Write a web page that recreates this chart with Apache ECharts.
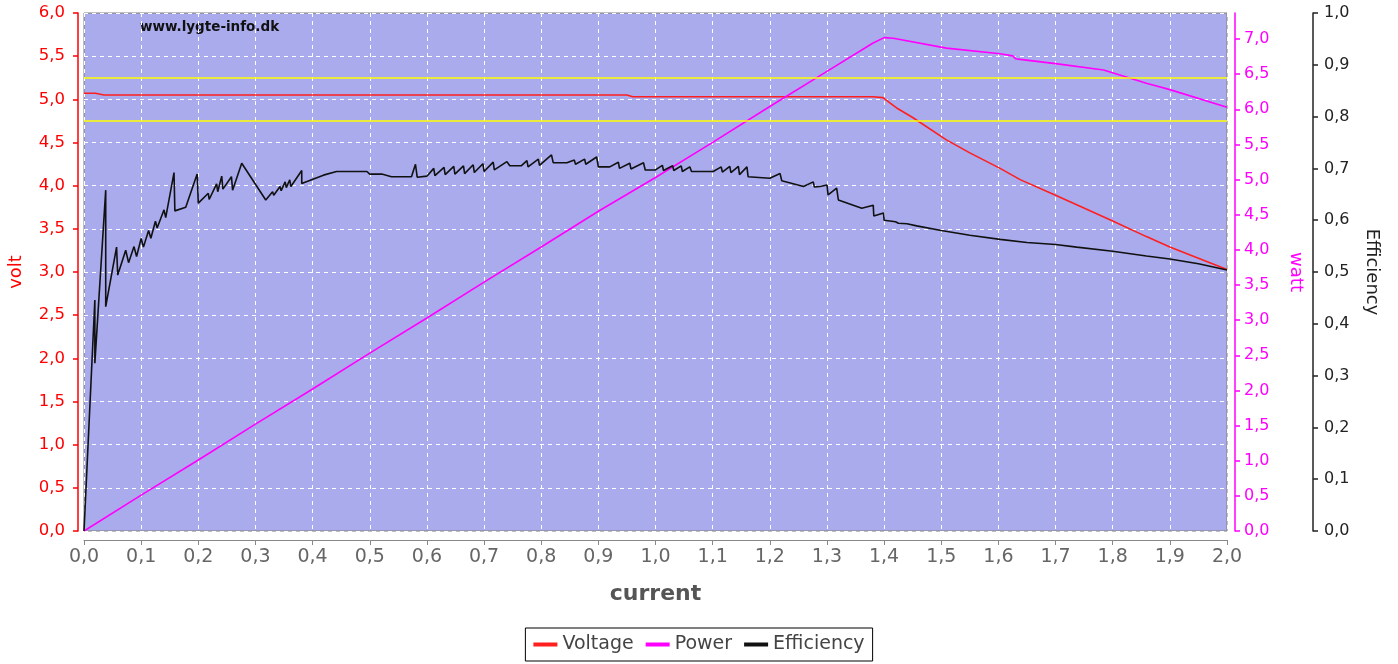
<!DOCTYPE html>
<html>
<head>
<meta charset="utf-8">
<script src="https://cdn.jsdelivr.net/npm/echarts@6/dist/echarts.min.js"></script>
<style>html,body{margin:0;padding:0;background:#fff}#c{width:1398px;height:664px}</style>
</head>
<body>
<div id="c"></div>
<script>
// ---- Data ----
const voltCurrent = [0,0.02,0.035,0.95,0.96,1.38,1.398,1.41,1.422,1.45,1.509,1.55,1.603,1.638,1.70,1.737,1.80,1.859,1.90,1.95,2.0];
const voltValues  = [5.07,5.07,5.05,5.05,5.03,5.03,5.02,4.96,4.90,4.79,4.53,4.38,4.20,4.07,3.89,3.78,3.59,3.41,3.29,3.16,3.03];

const powerCurrent = [0,0.1,0.2,0.3,0.4,0.5,0.6,0.7,0.8,0.9,1.0,1.1,1.2,1.3,1.38,1.40,1.416,1.509,1.603,1.625,1.63,1.638,1.70,1.784,1.859,1.90,2.0];
const powerValues  = [0,0.51,1.01,1.52,2.02,2.53,3.03,3.54,4.04,4.55,5.03,5.53,6.04,6.54,6.94,7.02,7.01,6.87,6.79,6.76,6.72,6.71,6.65,6.56,6.37,6.28,6.03];

const effCurrent = [0,0.019,0.019,0.038,0.038,0.057,0.059,0.073,0.078,0.0875,0.092,0.100,0.104,0.113,0.117,0.125,0.128,0.140,0.143,0.1575,0.159,0.178,0.198,0.200,0.2175,0.219,0.232,0.234,0.241,0.243,0.258,0.260,0.276,0.318,0.330,0.332,0.343,0.345,0.352,0.354,0.360,0.362,0.381,0.381,0.419,0.442,0.495,0.500,0.521,0.538,0.559,0.573,0.580,0.583,0.600,0.612,0.614,0.630,0.632,0.647,0.649,0.664,0.666,0.681,0.683,0.698,0.700,0.716,0.718,0.740,0.745,0.765,0.775,0.777,0.795,0.797,0.818,0.821,0.845,0.858,0.860,0.876,0.878,0.897,0.900,0.920,0.935,0.937,0.955,0.957,0.979,0.982,1.000,1.012,1.014,1.030,1.032,1.045,1.047,1.060,1.063,1.101,1.115,1.117,1.130,1.132,1.145,1.147,1.160,1.162,1.200,1.218,1.221,1.259,1.276,1.278,1.288,1.300,1.302,1.317,1.320,1.361,1.381,1.382,1.399,1.400,1.420,1.425,1.440,1.457,1.50,1.55,1.603,1.65,1.70,1.737,1.80,1.859,1.90,1.95,2.0];
const effValues  = [0,0.446,0.324,0.658,0.433,0.548,0.494,0.542,0.518,0.549,0.530,0.565,0.548,0.580,0.565,0.598,0.585,0.620,0.605,0.692,0.618,0.625,0.689,0.633,0.652,0.640,0.670,0.655,0.685,0.660,0.684,0.658,0.710,0.639,0.655,0.648,0.665,0.657,0.674,0.663,0.678,0.665,0.696,0.671,0.687,0.694,0.694,0.689,0.689,0.684,0.684,0.684,0.708,0.683,0.685,0.700,0.686,0.702,0.688,0.704,0.689,0.705,0.690,0.707,0.692,0.709,0.694,0.712,0.697,0.713,0.705,0.705,0.715,0.703,0.718,0.706,0.726,0.711,0.711,0.716,0.708,0.718,0.708,0.722,0.703,0.703,0.712,0.700,0.710,0.699,0.711,0.697,0.697,0.706,0.696,0.705,0.696,0.705,0.694,0.703,0.694,0.694,0.703,0.693,0.704,0.692,0.704,0.688,0.703,0.684,0.681,0.690,0.676,0.665,0.674,0.664,0.665,0.668,0.649,0.662,0.639,0.623,0.629,0.608,0.614,0.600,0.597,0.594,0.593,0.589,0.580,0.571,0.563,0.557,0.553,0.548,0.540,0.531,0.525,0.516,0.504];

const limitLines = [5.25, 4.75];
const seriesNames = ['Voltage','Power','Efficiency'];

const pair = (xs, ys) => xs.map((x, i) => [x, ys[i]]);
const comma = v => {
  const r = Math.round(v * 10) / 10;
  if (Math.abs(v - r) > 1e-6) return '';
  return r.toFixed(1).replace('.', ',');
};
const FONT = 'DejaVu Sans';

const chart = echarts.init(document.getElementById('c'), null, {renderer: 'canvas'});
chart.setOption({
  animation: false,
  backgroundColor: '#ffffff',
  textStyle: {fontFamily: FONT},
  grid: {left: 84, right: 171, top: 13, bottom: 133, show: true, containLabel: false,
         outerBoundsMode: 'none',
         backgroundColor: '#A9ABEC', borderColor: '#7f7f7f', borderWidth: 1},
  graphic: [{type: 'text', left: 140, top: 20,
             style: {text: 'www.lygte-info.dk', font: 'bold 13.5px ' + FONT, fill: '#111'}}],
  legend: {
    bottom: 3, left: 'center', data: seriesNames,
    icon: 'rect', itemWidth: 24, itemHeight: 4, itemGap: 12,
    borderColor: '#000', borderWidth: 1, borderRadius: 0, padding: [7, 8, 7, 8],
    textStyle: {fontSize: 19, color: '#444', fontFamily: FONT}
  },
  xAxis: {
    type: 'value', min: 0, max: 2, interval: 0.1, offset: 9,
    name: 'current', nameLocation: 'middle', nameGap: 43,
    nameTextStyle: {fontSize: 22, fontWeight: 'bold', color: '#555', fontFamily: FONT},
    axisLine: {show: true, onZero: false, lineStyle: {color: '#888', width: 1}},
    axisTick: {show: true, length: 5, lineStyle: {color: '#888'}},
    axisLabel: {fontSize: 19, color: '#666', margin: 8, formatter: comma},
    splitLine: {show: true, lineStyle: {color: '#ffffff', type: [4, 4], width: 1}}
  },
  yAxis: [
    {
      type: 'value', min: 0, max: 6, interval: 0.5, position: 'left', offset: 6,
      name: 'volt', nameLocation: 'middle', nameGap: 53, nameRotate: 90,
      nameTextStyle: {fontSize: 18, color: '#ff0000', fontFamily: FONT},
      axisLine: {show: true, onZero: false, lineStyle: {color: '#ff0000', width: 1.5}},
      axisTick: {show: true, length: 5, lineStyle: {color: '#ff0000', width: 1.5}},
      axisLabel: {fontSize: 16.5, color: '#ff0000', margin: 13, formatter: comma},
      splitLine: {show: true, lineStyle: {color: '#ffffff', type: [4, 4], width: 1}}
    },
    {
      type: 'value', min: 0, max: 7.37, interval: 0.5, position: 'right', offset: 8,
      name: 'watt', nameLocation: 'middle', nameGap: 52, nameRotate: -90,
      nameTextStyle: {fontSize: 18, color: '#ff00ff', fontFamily: FONT},
      axisLine: {show: true, onZero: false, lineStyle: {color: '#ff00ff', width: 1.5}},
      axisTick: {show: true, length: 5, lineStyle: {color: '#ff00ff', width: 1.5}},
      axisLabel: {fontSize: 16, color: '#ff00ff', margin: 9, formatter: comma, showMaxLabel: false},
      splitLine: {show: false}
    },
    {
      type: 'value', min: 0, max: 1, interval: 0.1, position: 'right', offset: 86,
      name: 'Efficiency', nameLocation: 'middle', nameGap: 50, nameRotate: -90,
      nameTextStyle: {fontSize: 18, color: '#222', fontFamily: FONT},
      axisLine: {show: true, onZero: false, lineStyle: {color: '#222', width: 1.5}},
      axisTick: {show: true, length: 5, lineStyle: {color: '#222', width: 1.5}},
      axisLabel: {fontSize: 16, color: '#222', margin: 11, formatter: comma},
      splitLine: {show: false}
    }
  ],
  series: [
    {
      name: 'Voltage', type: 'line', yAxisIndex: 0, showSymbol: false, symbol: 'none',
      data: pair(voltCurrent, voltValues),
      lineStyle: {color: '#ff1f1f', width: 1.6}, itemStyle: {color: '#ff1f1f'}, z: 3,
      markLine: {
        silent: true, symbol: 'none', label: {show: false},
        lineStyle: {color: '#ffff00', type: 'solid', width: 1.6},
        data: limitLines.map(v => ({yAxis: v}))
      }
    },
    {
      name: 'Power', type: 'line', yAxisIndex: 1, showSymbol: false, symbol: 'none',
      data: pair(powerCurrent, powerValues),
      lineStyle: {color: '#ff00ff', width: 1.6}, itemStyle: {color: '#ff00ff'}, z: 4
    },
    {
      name: 'Efficiency', type: 'line', yAxisIndex: 2, showSymbol: false, symbol: 'none',
      data: pair(effCurrent, effValues),
      lineStyle: {color: '#111', width: 1.6}, itemStyle: {color: '#111'}, z: 5
    }
  ]
});
</script>
</body>
</html>
